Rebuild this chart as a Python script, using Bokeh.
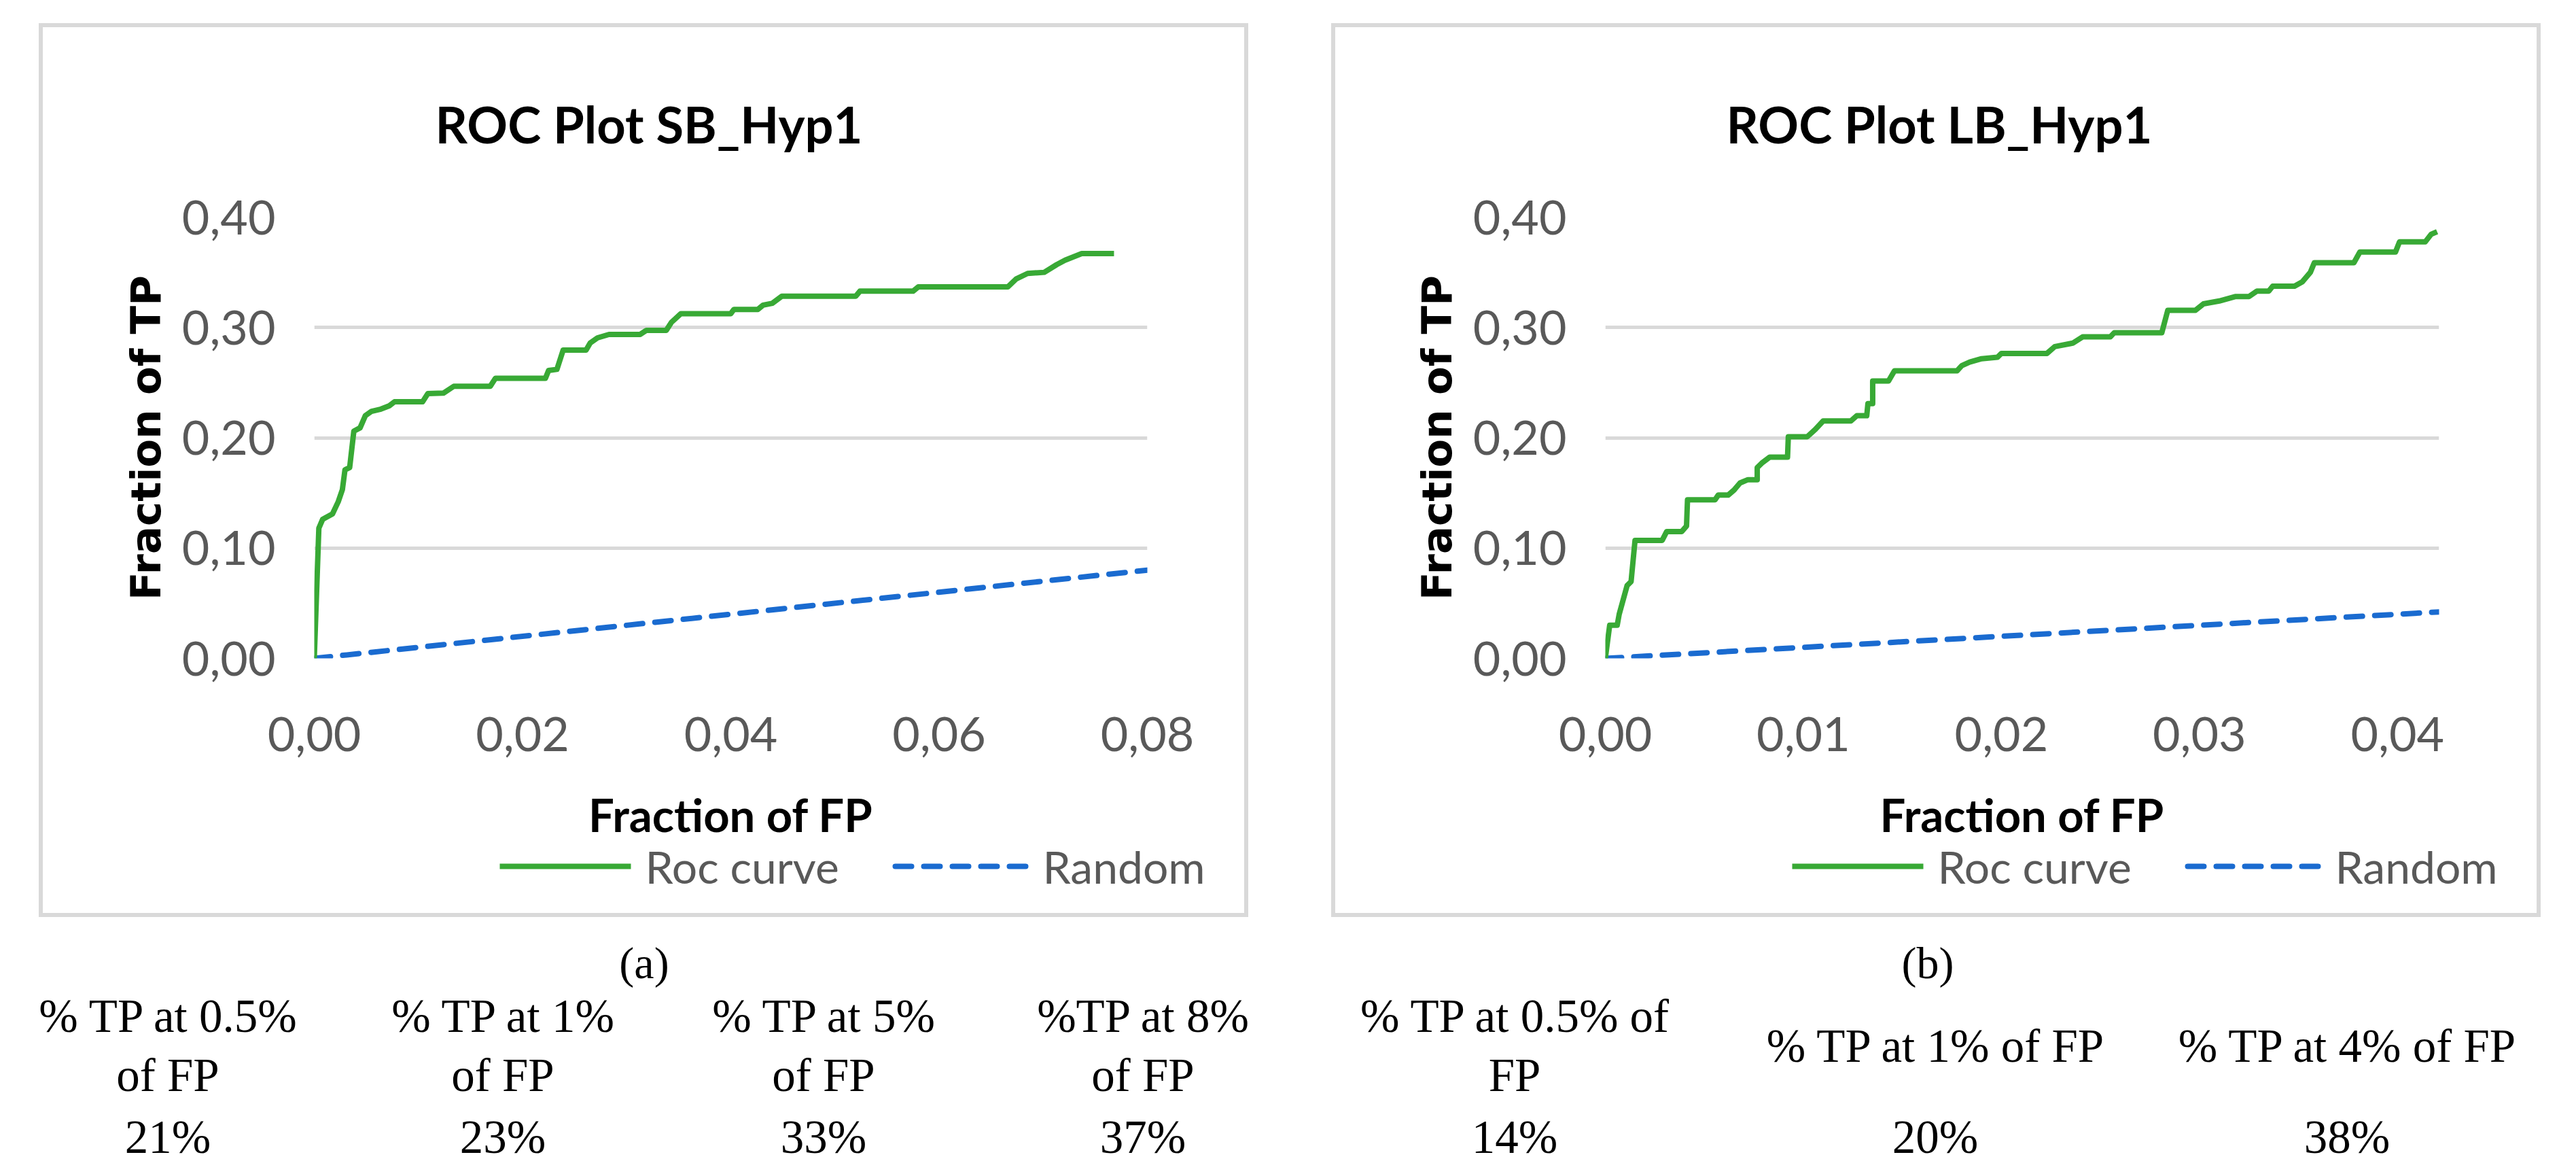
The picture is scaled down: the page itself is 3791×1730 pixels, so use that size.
from bokeh.plotting import figure
from bokeh.models import Range1d, FixedTicker, CustomJSTickFormatter, Div
from bokeh.layouts import row, column
from bokeh.embed import file_html
from bokeh.resources import INLINE
from bokeh.core.properties import value

# ---------------- data ----------------
sb_fp = [0.0, 0.00044, 0.0008, 0.00175, 0.0023, 0.0027, 0.00295, 0.0034, 0.0038,
         0.0044, 0.0049, 0.0055, 0.0064, 0.0072, 0.0077, 0.0104, 0.0109, 0.0124,
         0.0134, 0.0169, 0.0174, 0.0222, 0.0225, 0.0233, 0.0239, 0.0261, 0.0265,
         0.0272, 0.0283, 0.0313, 0.0319, 0.0338, 0.0343, 0.0352, 0.0400, 0.0403,
         0.0426, 0.0431, 0.0440, 0.0449, 0.0520, 0.0524, 0.0575, 0.0580, 0.0666,
         0.0674, 0.0685, 0.0701, 0.0713, 0.0721, 0.0737, 0.0768]
sb_tp = [0.0, 0.118, 0.126, 0.131, 0.142, 0.153, 0.171, 0.173, 0.206,
         0.209, 0.220, 0.224, 0.226, 0.229, 0.2326, 0.2326, 0.240, 0.2405,
         0.2467, 0.2467, 0.254, 0.254, 0.261, 0.262, 0.2795, 0.2795, 0.286,
         0.2906, 0.2937, 0.2937, 0.2974, 0.2974, 0.3047, 0.3125, 0.3125, 0.3164,
         0.3164, 0.3203, 0.3220, 0.3283, 0.3283, 0.3329, 0.3329, 0.3368, 0.3368,
         0.344, 0.349, 0.350, 0.357, 0.361, 0.367, 0.367]

lb_fp = [0.0, 0.00022, 0.0006, 0.0007, 0.0011, 0.0013, 0.0015, 0.00287, 0.0031,
         0.00386, 0.0041, 0.00415, 0.00554, 0.0057, 0.0062, 0.0065, 0.0068, 0.0072,
         0.00767, 0.00767, 0.0079, 0.0083, 0.0092, 0.00924, 0.0102, 0.0106, 0.0110,
         0.0124, 0.0127, 0.0132, 0.01326, 0.0135, 0.0135, 0.0143, 0.0146, 0.01776,
         0.0180, 0.0184, 0.0190, 0.0198, 0.0200, 0.0223, 0.0227, 0.0236, 0.0241,
         0.0255, 0.0257, 0.0281, 0.0284, 0.0298, 0.0302, 0.0310, 0.0318, 0.0325,
         0.0329, 0.0335, 0.0337, 0.0348, 0.0352, 0.0356, 0.0358, 0.0378, 0.0381,
         0.0399, 0.0401, 0.0414, 0.0417, 0.0420]
lb_tp = [0.0, 0.030, 0.030, 0.040, 0.066, 0.0695, 0.107, 0.107, 0.115,
         0.115, 0.120, 0.1438, 0.1438, 0.148, 0.148, 0.1526, 0.159, 0.162,
         0.162, 0.173, 0.177, 0.1824, 0.1824, 0.201, 0.201, 0.2075, 0.2153,
         0.2153, 0.220, 0.220, 0.231, 0.231, 0.2514, 0.2514, 0.2607, 0.2607,
         0.2654, 0.2686, 0.2717, 0.273, 0.2765, 0.2765, 0.2827, 0.2858, 0.2915,
         0.2915, 0.2953, 0.2953, 0.3156, 0.3156, 0.3214, 0.324, 0.328, 0.328,
         0.333, 0.333, 0.3374, 0.3374, 0.3415, 0.350, 0.3587, 0.3587, 0.3684,
         0.3684, 0.3776, 0.3776, 0.3845, 0.3868]

sb_random_fp = [0.0, 0.08]
sb_random_tp = [0.0, 0.08]
lb_random_fp = [0.0, 0.0421]
lb_random_tp = [0.0, 0.0421]

sb_x_ticks = [0.0, 0.02, 0.04, 0.06, 0.08]
lb_x_ticks = [0.0, 0.01, 0.02, 0.03, 0.04]
y_ticks = [0.0, 0.1, 0.2, 0.3, 0.4]
sb_x_max = 0.08
lb_x_max = 0.0421
y_max = 0.40

titles = ["ROC Plot SB_Hyp1", "ROC Plot LB_Hyp1"]
x_label = "Fraction of FP"
y_label = "Fraction of TP"
series_names = ["Roc curve", "Random"]
captions = ["(a)", "(b)"]

tbl_a_labels = [["% TP at 0.5%", "of FP"], ["% TP at 1%", "of FP"],
                ["% TP at 5%", "of FP"], ["%TP at 8%", "of FP"]]
tbl_a_values = ["21%", "23%", "33%", "37%"]
tbl_b_labels = [["% TP at 0.5% of", "FP"], ["% TP at 1% of FP"], ["% TP at 4% of FP"]]
tbl_b_values = ["14%", "20%", "38%"]

# ---------------- styles / layout ----------------
GREEN = "#38a935"
BLUE = "#1a6bd0"
GRID = "#d9d9d9"
TICK = "#595959"
SANS = "Lato"
LW = 8
DASH = "24 18"
BW = 6                        # grey frame of each chart (css outline)
PW, PH = 1780 - 2 * BW, 1315 - 2 * BW
MAIN_H = 1200                 # chart part; the rest of the box is the legend strip
LEG_H = PH - MAIN_H
LEG_MID = 34                  # legend row centre inside the strip
key_x0 = [672, 1254]          # legend key line starts (strip px)
key_x1 = [865, 1450]          # legend key line ends
label_x = [886, 1471]         # legend label starts

fmt = CustomJSTickFormatter(code="return tick.toFixed(2).replace('.', ',');")


def make_panel(title, fp, tp, rfp, rtp, xmax, xticks, left_border, right_border,
               margin_left):
    frame_top = 285 - BW
    frame_bottom = frame_top + 651
    p = figure(width=PW, height=MAIN_H,
               x_range=Range1d(0, xmax), y_range=Range1d(0, y_max),
               output_backend="svg", toolbar_location=None, title=title,
               min_border_left=left_border - BW, min_border_right=right_border - BW,
               min_border_top=frame_top, min_border_bottom=MAIN_H - frame_bottom)
    p.outline_line_color = None
    p.background_fill_color = "white"
    p.border_fill_color = "white"

    p.title.text_font = SANS
    p.title.text_font_size = "74px"
    p.title.text_font_style = "bold"
    p.title.text_color = "#000000"
    p.title.align = "left"
    p.title.offset = 178
    p.title.standoff = 186

    p.xaxis.ticker = FixedTicker(ticks=xticks)
    p.yaxis.ticker = FixedTicker(ticks=y_ticks)
    for ax in (p.xaxis[0], p.yaxis[0]):
        ax.formatter = fmt
        ax.axis_line_color = None
        ax.major_tick_line_color = None
        ax.minor_tick_line_color = None
        ax.major_tick_out = 0
        ax.major_tick_in = 0
        ax.major_label_text_font = SANS
        ax.major_label_text_font_size = "70px"
        ax.major_label_text_color = TICK
        ax.axis_label_text_color = "#000000"
        ax.axis_label_text_font_style = "bold"
    p.xaxis.major_label_standoff = 86
    p.yaxis.major_label_standoff = 57
    p.xaxis.axis_label = x_label
    p.xaxis.axis_label_text_font = SANS
    p.xaxis.axis_label_text_font_size = "67px"
    p.xaxis.axis_label_standoff = 50
    p.yaxis.axis_label = y_label
    p.yaxis.axis_label_text_font = "DejaVu Sans"
    p.yaxis.axis_label_text_font_size = "61px"
    p.yaxis.axis_label_standoff = 15

    p.xgrid.visible = False
    p.ygrid.grid_line_color = GRID
    p.ygrid.grid_line_width = 5

    p.line(rfp, rtp, line_color=BLUE, line_width=LW, line_dash=DASH,
           line_cap="round")
    p.line(fp, tp, line_color=GREEN, line_width=LW, line_join="round")

    # legend strip at the bottom of the box (same width as the chart)
    lf = figure(width=PW, height=LEG_H,
                x_range=Range1d(0, PW), y_range=Range1d(LEG_H, 0),
                output_backend="svg", toolbar_location=None, min_border=0,
                x_axis_location=None, y_axis_location=None)
    aligned = True
    try:
        lf.frame_align = False
        p.frame_align = False
        aligned = False
    except Exception:
        pass
    if aligned:
        # frames get aligned with the chart above: map strip px onto that frame
        fl = left_border - BW
        fr = PW - (right_border - BW)
        lf.x_range = Range1d(fl, fr)
    lf.grid.visible = False
    lf.outline_line_color = None
    lf.background_fill_color = "white"
    lf.border_fill_color = "white"
    lf.line([key_x0[0], key_x1[0]], [LEG_MID, LEG_MID], line_color=GREEN,
            line_width=LW)
    lf.line([key_x0[1], key_x1[1]], [LEG_MID, LEG_MID], line_color=BLUE,
            line_width=LW, line_dash=DASH, line_cap="round")
    lf.text(x=label_x, y=[LEG_MID, LEG_MID], text=series_names,
            text_font=value(SANS), text_font_size="66px", text_color=TICK,
            text_baseline="middle", text_align="left")

    return column(p, lf, margin=(34 + BW, 0, BW, margin_left),
                  styles={"outline": "%dpx solid %s" % (BW, GRID),
                          "outline-offset": "0px", "background": "white"})


pa = make_panel(titles[0], sb_fp, sb_tp, sb_random_fp, sb_random_tp, sb_x_max,
                sb_x_ticks, 405, 149, 57 + BW)
pb = make_panel(titles[1], lb_fp, lb_tp, lb_random_fp, lb_random_tp, lb_x_max,
                lb_x_ticks, 403, 150, 122 + 2 * BW)

# ---------------- captions and table below the charts (html text) ----------------
DIV_TOP, DIV_LEFT, DIV_H = 1349, 8, 355
caption_x = [951, 2840]
caption_base = 1434
a_cols = [250, 743, 1215, 1685]
b_cols = [2232, 2851, 3457]
two_line_base = [1514, 1601]
one_line_base = 1558
value_base = 1692


def span(txt, cx, base, size):
    top = base - 0.8375 * size - DIV_TOP
    return ('<span style="position:absolute;left:%.1fpx;top:%.1fpx;'
            'transform:translateX(-50%%);white-space:nowrap;font-size:%dpx;'
            'line-height:1">%s</span>' % (cx - DIV_LEFT, top, size, txt))


parts = []
for cx, cap in zip(caption_x, captions):
    parts.append(span(cap, cx, caption_base, 66))
for cols, labels in ((a_cols, tbl_a_labels), (b_cols, tbl_b_labels)):
    for cx, lines in zip(cols, labels):
        bases = two_line_base if len(lines) == 2 else [one_line_base]
        for b, s in zip(bases, lines):
            parts.append(span(s, cx, b, 69))
for cx, v in zip(a_cols + b_cols, tbl_a_values + tbl_b_values):
    parts.append(span(v, cx, value_base, 69))

html = ('<div style="position:relative;width:3775px;height:%dpx;'
        'font-family:\'Liberation Serif\',serif;color:#000000;">%s</div>'
        % (DIV_H, "".join(parts)))
table = Div(text=html, width=3775, height=DIV_H)

layout = column(row(pa, pb), table)
open("out.html", "w").write(file_html(layout, INLINE))
